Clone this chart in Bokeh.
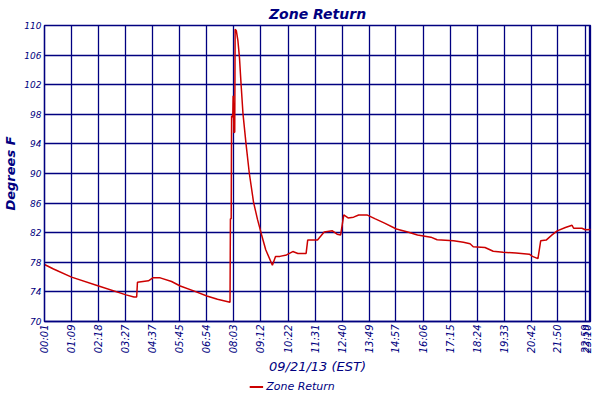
from math import pi
from bokeh.plotting import figure
from bokeh.layouts import column
from bokeh.models import FixedTicker, Legend, Range1d
from bokeh.embed import file_html
from bokeh.resources import INLINE

# minutes after midnight, 09/21/13
minutes = [1, 24, 70, 139, 209, 229, 236, 238, 266, 277, 296, 325, 347, 383,
           415, 442, 474, 475, 477, 478, 481, 482, 483, 484, 486, 487, 490, 494,
           498, 502, 507, 515, 523, 534, 544, 554, 565, 582, 590, 601, 618, 634,
           647, 668, 672, 697, 714, 735, 747, 756, 764, 775, 789, 802, 823, 843,
           868, 898, 927, 952, 986, 1002, 1044, 1069, 1086, 1094, 1124, 1145,
           1170, 1203, 1237, 1245, 1259, 1266, 1280, 1295, 1308, 1329, 1346,
           1350, 1371, 1380, 1395]
zone_return = [77.7, 77.1, 76.0, 74.8, 73.6, 73.3, 73.3, 75.3, 75.5, 75.9, 75.9,
               75.4, 74.8, 74.1, 73.45, 73.0, 72.6, 83.9, 83.9, 97.8, 97.6, 100.5,
               98.0, 95.5, 95.6, 109.5, 109.3, 108.0, 105.7, 102.2, 98.1, 93.9,
               90.1, 86.1, 83.8, 81.8, 79.7, 77.6, 78.8, 78.8, 79.0, 79.45, 79.2,
               79.2, 81.0, 81.0, 82.1, 82.25, 81.8, 81.7, 84.4, 84.0, 84.1, 84.4,
               84.4, 83.9, 83.3, 82.5, 82.1, 81.7, 81.4, 81.05, 80.9, 80.7, 80.5,
               80.1, 80.0, 79.5, 79.35, 79.25, 79.1, 78.8, 78.5, 80.9, 81.0, 81.7,
               82.25, 82.7, 83.0, 82.6, 82.6, 82.4, 82.45]

tick_labels = ["00:01", "01:09", "02:18", "03:27", "04:37", "05:45", "06:54",
               "08:03", "09:12", "10:22", "11:31", "12:40", "13:49", "14:57",
               "16:06", "17:15", "18:24", "19:33", "20:42", "21:50", "22:59",
               "23:10"]
tick_minutes = [int(s[:2]) * 60 + int(s[3:]) for s in tick_labels]
y_ticks = [70, 74, 78, 82, 86, 90, 94, 98, 102, 106, 110]

navy = "#000080"
red = "#cc0000"
font = "DejaVu Sans"

p = figure(frame_width=546, frame_height=296, output_backend="svg",
           toolbar_location=None,
           x_range=Range1d(1, 1393), y_range=Range1d(70, 110),
           title="Zone Return", min_border_left=0, min_border_right=2,
           min_border_top=0, min_border_bottom=0)

p.title.align = "center"
p.title.text_font = font
p.title.text_font_size = "14px"
p.title.text_font_style = "bold italic"
p.title.text_color = navy
p.title.standoff = 7

p.xaxis.ticker = FixedTicker(ticks=tick_minutes)
p.xaxis.major_label_overrides = {m: s for m, s in zip(tick_minutes, tick_labels)}
p.xaxis.major_label_orientation = pi / 2
p.yaxis.ticker = FixedTicker(ticks=y_ticks)

p.xaxis.axis_label = "09/21/13 (EST)"
p.yaxis.axis_label = "Degrees F"
p.xaxis.axis_label_text_font_style = "italic"
p.yaxis.axis_label_text_font_style = "bold italic"
p.xaxis.axis_label_text_font_size = "13px"
p.yaxis.axis_label_text_font_size = "13px"

for ax in (p.xaxis, p.yaxis):
    ax.axis_label_text_font = font
    ax.axis_label_text_color = navy
    ax.axis_label_standoff = 3
    ax.major_label_text_font = font
    ax.major_label_text_font_size = "10px"
    ax.major_label_text_font_style = "italic"
    ax.major_label_text_color = navy
    ax.major_label_standoff = 3
    ax.major_tick_out = 0
    ax.major_tick_in = 0
    ax.minor_tick_out = 0
    ax.minor_tick_in = 0
    ax.axis_line_color = navy
    ax.axis_line_width = 1.3

p.yaxis.major_label_text_font_size = "9px"

p.grid.grid_line_color = navy
p.grid.grid_line_width = 1.3
p.outline_line_color = navy
p.outline_line_width = 1.3
p.outline_line_alpha = 1

p.line(minutes, zone_return, line_color=red, line_width=1.5)

# legend lives in its own strip under the chart; the series itself falls
# outside this strip's ranges, so only the legend entry shows
leg = figure(frame_width=584, frame_height=18, output_backend="svg",
             toolbar_location=None, x_axis_type=None, y_axis_type=None,
             x_range=Range1d(0, 1), y_range=Range1d(0, 1),
             min_border=0, outline_line_color=None)
leg.grid.visible = False
lr = leg.line(minutes, zone_return, line_color=red, line_width=2)
legend = Legend(items=[("Zone Return", [lr])], orientation="horizontal",
                location="center", background_fill_alpha=0, border_line_alpha=0,
                label_text_font=font, label_text_font_size="11px",
                label_text_font_style="italic", label_text_color=navy,
                glyph_width=14, glyph_height=10, label_height=12,
                padding=0, margin=0, spacing=0, label_standoff=3)
leg.add_layout(legend)

page = column(p, leg, spacing=0)
open("out.html", "w").write(file_html(page, INLINE))
